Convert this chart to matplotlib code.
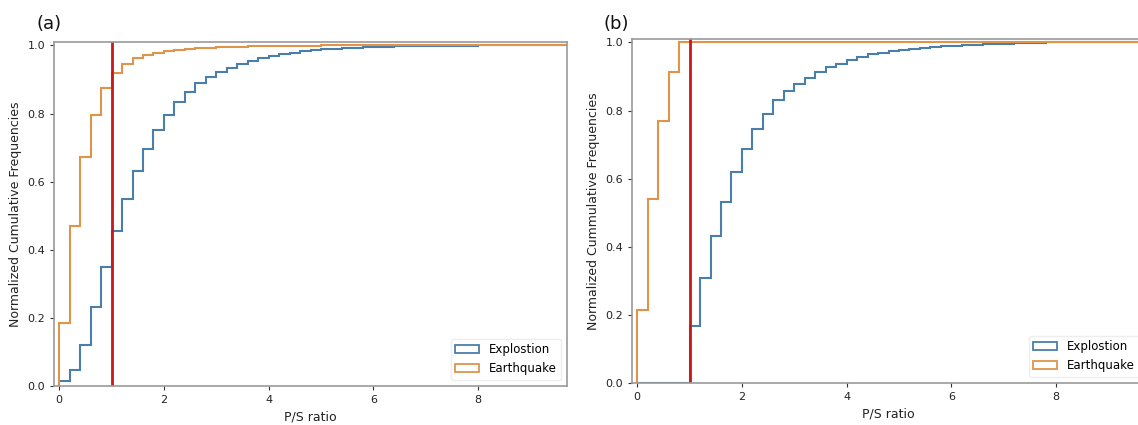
import numpy as np
import matplotlib
matplotlib.use("Agg")
import matplotlib.pyplot as plt
from matplotlib.patches import Patch

# bin edges (width 0.2) start at 0
bin_width = 0.2
n_bins = 49

# Panel (a) cumulative fractions per bin
a_explosion = [0.014, 0.047, 0.120, 0.231, 0.349, 0.456, 0.550, 0.630, 0.696, 0.752,
               0.797, 0.834, 0.864, 0.890, 0.908, 0.921, 0.934, 0.944, 0.953, 0.962,
               0.969, 0.975, 0.979, 0.983, 0.986, 0.988, 0.990, 0.992, 0.993, 0.994,
               0.995, 0.996, 0.997, 0.997, 0.998, 0.998, 0.999, 0.999, 0.999, 0.9995,
               1.0, 1.0, 1.0, 1.0, 1.0, 1.0, 1.0, 1.0, 1.0]
a_earthquake = [0.184, 0.471, 0.673, 0.797, 0.876, 0.920, 0.946, 0.962, 0.972, 0.979,
                0.983, 0.986, 0.989, 0.991, 0.993, 0.994, 0.995, 0.996, 0.997, 0.997,
                0.998, 0.998, 0.999, 0.999, 0.999, 1.0, 1.0, 1.0, 1.0, 1.0,
                1.0, 1.0, 1.0, 1.0, 1.0, 1.0, 1.0, 1.0, 1.0, 1.0,
                1.0, 1.0, 1.0, 1.0, 1.0, 1.0, 1.0, 1.0, 1.0]

# Panel (b) cumulative fractions per bin
b_explosion = [0.0, 0.0, 0.0, 0.0, 0.0, 0.168, 0.309, 0.433, 0.532, 0.619,
               0.686, 0.746, 0.789, 0.830, 0.857, 0.878, 0.896, 0.912, 0.927, 0.938,
               0.948, 0.957, 0.965, 0.970, 0.975, 0.978, 0.981, 0.984, 0.986, 0.988,
               0.990, 0.992, 0.993, 0.994, 0.995, 0.996, 0.997, 0.998, 0.999, 1.0,
               1.0, 1.0, 1.0, 1.0, 1.0, 1.0, 1.0, 1.0, 1.0]
b_earthquake = [0.213, 0.540, 0.770, 0.912, 1.0, 1.0, 1.0, 1.0, 1.0, 1.0,
                1.0, 1.0, 1.0, 1.0, 1.0, 1.0, 1.0, 1.0, 1.0, 1.0,
                1.0, 1.0, 1.0, 1.0, 1.0, 1.0, 1.0, 1.0, 1.0, 1.0,
                1.0, 1.0, 1.0, 1.0, 1.0, 1.0, 1.0, 1.0, 1.0, 1.0,
                1.0, 1.0, 1.0, 1.0, 1.0, 1.0, 1.0, 1.0, 1.0]

threshold = 1.0
series_labels = ["Explostion", "Earthquake"]
panel_labels = ["(a)", "(b)"]
ylabels = ["Normalized Cumulative Frequencies", "Normalized Cummulative Frequencies"]
xlabel = "P/S ratio"

c_blue = "#4a7eab"
c_orange = "#e0944a"
c_red = "#c81818"
spine_c = "#999999"

edges = np.arange(n_bins + 1) * bin_width

fig = plt.figure(figsize=(11.38, 4.25), dpi=100)
positions = [
    [54 / 1138, 1 - 386 / 425, (567 - 54) / 1138, (386 - 42) / 425],
    [632 / 1138, 1 - 383 / 425, (1145 - 632) / 1138, (383 - 39) / 425],
]
data = [(a_explosion, a_earthquake), (b_explosion, b_earthquake)]
label_pos = [(37 / 1138, 1 - 29 / 425), (604 / 1138, 1 - 29 / 425)]

for i in range(2):
    ax = fig.add_axes(positions[i])
    expl, eq = data[i]
    ax.stairs(expl, edges, baseline=0, color=c_blue, lw=1.5)
    ax.stairs(eq, edges, baseline=0, color=c_orange, lw=1.5)
    ax.axvline(threshold, color=c_red, lw=2)
    ax.set_xlim(-0.1, 9.7)
    ax.set_ylim(0, 1.01)
    ax.set_xticks([0, 2, 4, 6, 8])
    ax.set_yticks([0.0, 0.2, 0.4, 0.6, 0.8, 1.0])
    ax.tick_params(labelsize=8, length=3, width=0.8, color="#333333", labelcolor="#222222")
    for s in ax.spines.values():
        s.set_color(spine_c)
        s.set_linewidth(1.2)
    ax.set_xlabel(xlabel, fontsize=9, color="#222222")
    ax.set_ylabel(ylabels[i], fontsize=9, color="#222222")
    handles = [Patch(facecolor="none", edgecolor=c_blue, lw=1.3),
               Patch(facecolor="none", edgecolor=c_orange, lw=1.3)]
    ax.legend(handles, series_labels, loc="lower right", fontsize=8.5, framealpha=1,
              edgecolor="#eeeeee")
    fig.text(label_pos[i][0], label_pos[i][1], panel_labels[i], fontsize=13, color="#111111")

fig.savefig("out.png", dpi=100)
